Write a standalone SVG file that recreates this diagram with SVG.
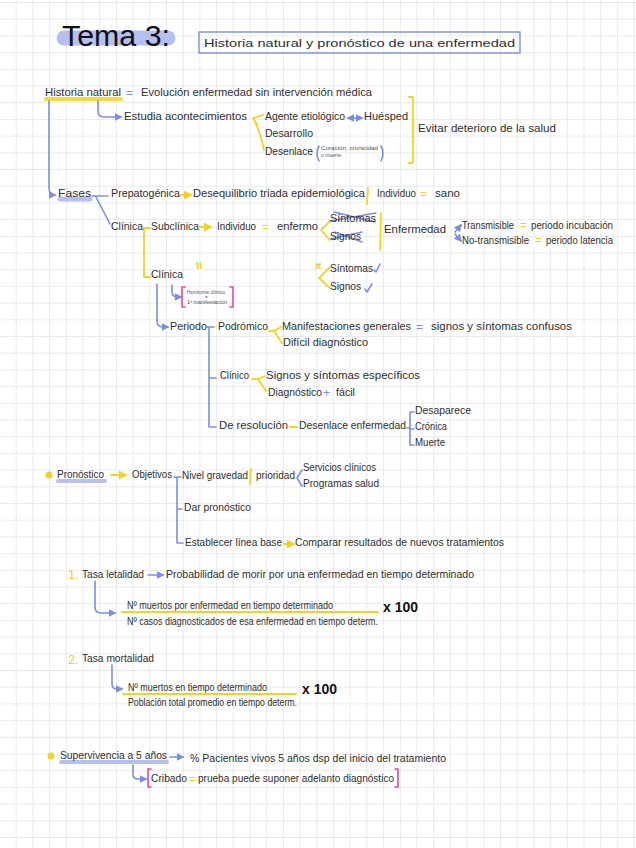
<svg xmlns="http://www.w3.org/2000/svg" width="636" height="848" viewBox="0 0 636 848">
<style>
.t{font-family:"Liberation Sans",Arial,sans-serif;font-size:10.5px;fill:#2e2e2e}
.xs{font-family:"Liberation Sans",Arial,sans-serif;font-size:4.5px;fill:#555}
.big{font-family:"Liberation Sans",Arial,sans-serif;font-size:29px;fill:#111}
.x100{font-family:"Liberation Sans",Arial,sans-serif;font-size:14px;font-weight:bold;fill:#111}
.yl{font-family:"Liberation Sans",Arial,sans-serif;font-size:13px;fill:#f2cf1d}
.bl{stroke:#7b8ee6;stroke-width:1.6;fill:none;stroke-linecap:round;stroke-linejoin:round}
.ye{stroke:#f5d21e;stroke-width:1.8;fill:none;stroke-linecap:round;stroke-linejoin:round}
.pk{stroke:#e8489c;stroke-width:1.6;fill:none;stroke-linecap:round;stroke-linejoin:round}
.eqy{font-family:"Liberation Sans",Arial,sans-serif;font-size:12px;fill:#f5d21e}
.eqb{font-family:"Liberation Sans",Arial,sans-serif;font-size:12px;fill:#7b8ee6}
</style>
<defs>
<pattern id="grid" width="16.7" height="16.7" patternUnits="userSpaceOnUse" x="0" y="3">
<path d="M16.7,0 V16.7 M0,16.7 H16.7" stroke="#d8d8d8" stroke-width="1" fill="none"/>
</pattern>
<marker id="ab" viewBox="0 0 10 10" refX="8" refY="5" markerWidth="5" markerHeight="5" orient="auto-start-reverse"><path d="M0,0 L10,5 L0,10 z" fill="#7b8ee6"/></marker>
<marker id="ay" viewBox="0 0 10 10" refX="8" refY="5" markerWidth="5" markerHeight="5" orient="auto-start-reverse"><path d="M0,0 L10,5 L0,10 z" fill="#f5d21e"/></marker>
</defs>
<rect width="636" height="848" fill="#fff"/>
<rect width="636" height="848" fill="url(#grid)"/>

<g id="highlights">
<path d="M64,38 H168" stroke="#b6bff1" stroke-width="15" stroke-linecap="round"/>
<path d="M46,99 H121" stroke="#f5d21e" stroke-width="4" stroke-linecap="round" opacity="0.85"/>
<path d="M60,199 H90" stroke="#b6bff1" stroke-width="5" stroke-linecap="round"/>
<path d="M58,481 H105" stroke="#b6bff1" stroke-width="4" stroke-linecap="round"/>
<path d="M61,762 H167" stroke="#b6bff1" stroke-width="4" stroke-linecap="round"/>
</g>

<g id="title">
<text class="big" x="62" y="46" textLength="108" lengthAdjust="spacingAndGlyphs">Tema 3:</text>
<rect x="199" y="32" width="321" height="21" fill="none" stroke="#7b8ee6" stroke-width="1.4"/>
<text class="t" x="204" y="47" font-size="12.5" textLength="311" lengthAdjust="spacingAndGlyphs">Historia natural y pronóstico de una enfermedad</text>
</g>

<g id="connectors">
<path class="bl" d="M49,101 V188 Q49,195 55,195" marker-end="url(#ab)"/>
<path class="bl" d="M98,101 V111 Q98,117 104,117 H121" marker-end="url(#ab)"/>
<path class="ye" d="M263,115 L253,118 L257,124 M253,118 Q260,130 264,150"/>
<path class="bl" d="M348,118 H362" marker-start="url(#ab)" marker-end="url(#ab)"/>
<path class="bl" d="M319,146 Q315,153 319,161 M381,146 Q385,153 381,161"/>
<path class="ye" d="M409,97 H413 V163 H409"/>
<path class="bl" d="M92,196 H108 M96,197 L110,224"/>
<path class="ye" d="M181,195 H191" marker-end="url(#ay)"/>
<path class="ye" d="M368,188 L367,204"/>
<path class="ye" d="M144,228 H150 M144,228 V277 H150"/>
<path class="ye" d="M200,227 H211" marker-end="url(#ay)"/>
<path class="ye" d="M330,221 L321,230 L330,240"/>
<path class="bl" d="M330,221 L376,213 M334,212 L375,222 M331,239 L362,232 M335,232 L362,242"/>
<path class="ye" d="M381,213 L380,250"/>
<path class="bl" d="M455,232 L461,225" marker-end="url(#ab)"/>
<path class="bl" d="M455,234 L461,241" marker-end="url(#ab)"/>
<path class="ye" d="M197,263 L198,268 M200,263 L201,268"/>
<path class="ye" d="M316,264 L320,268 M316,268 L320,264"/>
<path class="ye" d="M330,267 L319,278 L330,288"/>
<path class="bl" d="M374,270 L376,272 L380,264 M365,289 L367,292 L372,284"/>
<path class="bl" d="M157,284 V321 Q157,327 163,327 H168" marker-end="url(#ab)"/>
<path class="bl" d="M172,285 V292 Q172,297 178,297 H181" marker-end="url(#ab)"/>
<path class="pk" d="M185,287 H182 V307 H185 M230,287 H233 V307 H230"/>
<path class="bl" d="M207,327 H214 M209,327 V427 H216 M209,378 H216"/>
<path class="ye" d="M269,331 H274 L281,327 M274,331 L282,343"/>
<path class="ye" d="M252,379 H258 L265,376 M258,379 L266,391"/>
<path class="ye" d="M290,427 H297"/>
<path class="bl" d="M407,428 H410 M414,412 H410 V445 H414 M410,429 H414"/>
<circle cx="49" cy="475" r="3.5" fill="#f5d21e"/>
<path class="ye" d="M111,475 H126" marker-end="url(#ay)"/>
<path class="bl" d="M174,477 H181 M177,477 V543 H183 M177,509 H182"/>
<path class="ye" d="M251,469 L250,484"/>
<path class="bl" d="M302,470 L297,478 L302,486"/>
<path class="ye" d="M284,544 H294" marker-end="url(#ay)"/>
<path class="bl" d="M148,575 H163" marker-end="url(#ab)"/>
<path class="bl" d="M95,581 V607 Q95,613 101,613 H115" marker-end="url(#ab)"/>
<path class="ye" d="M122,612 H378" stroke-width="1.4"/>
<path class="bl" d="M112,665 V684 Q112,689 117,689 H122" marker-end="url(#ab)"/>
<path class="ye" d="M123,694 H296" stroke-width="1.4"/>
<circle cx="51" cy="756" r="3.5" fill="#f5d21e"/>
<path class="bl" d="M170,757 H183" marker-end="url(#ab)"/>
<path class="bl" d="M133,765 V774 Q133,779 138,779 H146" marker-end="url(#ab)"/>
<path class="pk" d="M151,769 H148 V787 H151 M395,769 H398 V787 H395"/>
</g>

<g id="n-historia">
<text class="t" x="45" y="96" textLength="76" lengthAdjust="spacingAndGlyphs">Historia natural</text>
<text class="eqb" x="126" y="97">=</text>
<text class="t" x="141" y="96" textLength="231" lengthAdjust="spacingAndGlyphs">Evolución enfermedad sin intervención médica</text>
</g>
<g id="n-estudia">
<text class="t" x="124" y="120" textLength="123" lengthAdjust="spacingAndGlyphs">Estudia acontecimientos</text>
<text class="t" x="265" y="120" textLength="80" lengthAdjust="spacingAndGlyphs">Agente etiológico</text>
<text class="t" x="364" y="120" textLength="44" lengthAdjust="spacingAndGlyphs">Huésped</text>
<text class="t" x="265" y="137" textLength="48" lengthAdjust="spacingAndGlyphs">Desarrollo</text>
<text class="t" x="265" y="155" textLength="48" lengthAdjust="spacingAndGlyphs">Desenlace</text>
<text class="xs" x="321" y="150" textLength="57" lengthAdjust="spacingAndGlyphs">Curación, cronicidad</text>
<text class="xs" x="321" y="157" textLength="20" lengthAdjust="spacingAndGlyphs">o muerte</text>
<text class="t" x="418" y="132" textLength="138" lengthAdjust="spacingAndGlyphs">Evitar deterioro de la salud</text>
</g>
<g id="n-fases">
<text class="t" x="58" y="197" textLength="33" lengthAdjust="spacingAndGlyphs">Fases</text>
<text class="t" x="111" y="197" textLength="69" lengthAdjust="spacingAndGlyphs">Prepatogénica</text>
<text class="t" x="193" y="197" textLength="172" lengthAdjust="spacingAndGlyphs">Desequilibrio triada epidemiológica</text>
<text class="t" x="377" y="197" textLength="39" lengthAdjust="spacingAndGlyphs">Individuo</text>
<text class="eqy" x="420" y="198">=</text>
<text class="t" x="435" y="197" textLength="25" lengthAdjust="spacingAndGlyphs">sano</text>
</g>
<g id="n-clinica">
<text class="t" x="111" y="230" textLength="32" lengthAdjust="spacingAndGlyphs">Clínica</text>
<text class="t" x="151" y="230" textLength="48" lengthAdjust="spacingAndGlyphs">Subclínica</text>
<text class="t" x="217" y="230" textLength="39" lengthAdjust="spacingAndGlyphs">Individuo</text>
<text class="eqy" x="262" y="231">=</text>
<text class="t" x="277" y="230" textLength="41" lengthAdjust="spacingAndGlyphs">enfermo</text>
<text class="t" x="330" y="222" textLength="46" lengthAdjust="spacingAndGlyphs">Síntomas</text>
<text class="t" x="330" y="240" textLength="31" lengthAdjust="spacingAndGlyphs">Signos</text>
<text class="t" x="384" y="233" textLength="62" lengthAdjust="spacingAndGlyphs">Enfermedad</text>
<text class="t" x="462" y="229" font-size="8.8" textLength="52" lengthAdjust="spacingAndGlyphs">Transmisible</text>
<text class="eqy" x="520" y="229" font-size="9">=</text>
<text class="t" x="531" y="229" font-size="9.5" textLength="82" lengthAdjust="spacingAndGlyphs">periodo incubación</text>
<text class="t" x="462" y="244" font-size="9.5" textLength="67" lengthAdjust="spacingAndGlyphs">No-transmisible</text>
<text class="eqy" x="535" y="244" font-size="10">=</text>
<text class="t" x="546" y="244" font-size="9.5" textLength="67" lengthAdjust="spacingAndGlyphs">periodo latencia</text>
<text class="t" x="151" y="278" textLength="32" lengthAdjust="spacingAndGlyphs">Clínica</text>
<text class="t" x="330" y="272" textLength="43" lengthAdjust="spacingAndGlyphs">Síntomas</text>
<text class="t" x="330" y="290" textLength="31" lengthAdjust="spacingAndGlyphs">Signos</text>
<text class="xs" x="187" y="294" textLength="38" lengthAdjust="spacingAndGlyphs">Horizonte clínico</text>
<text class="xs" x="205" y="299">=</text>
<text class="xs" x="187" y="304" textLength="40" lengthAdjust="spacingAndGlyphs">1ª manifestación</text>
</g>
<g id="n-periodo">
<text class="t" x="170" y="330" textLength="37" lengthAdjust="spacingAndGlyphs">Periodo</text>
<text class="t" x="218" y="330" textLength="50" lengthAdjust="spacingAndGlyphs">Podrómico</text>
<text class="t" x="282" y="330" textLength="129" lengthAdjust="spacingAndGlyphs">Manifestaciones generales</text>
<text class="eqb" x="416" y="331">=</text>
<text class="t" x="431" y="330" textLength="141" lengthAdjust="spacingAndGlyphs">signos y síntomas confusos</text>
<text class="t" x="283" y="346" textLength="85" lengthAdjust="spacingAndGlyphs">Difícil diagnóstico</text>
<text class="t" x="220" y="379" textLength="29" lengthAdjust="spacingAndGlyphs">Clínico</text>
<text class="t" x="266" y="379" textLength="154" lengthAdjust="spacingAndGlyphs">Signos y síntomas específicos</text>
<text class="t" x="268" y="396" textLength="54" lengthAdjust="spacingAndGlyphs">Diagnóstico</text>
<text class="eqb" x="323" y="397">+</text>
<text class="t" x="336" y="396" textLength="19" lengthAdjust="spacingAndGlyphs">fácil</text>
<text class="t" x="219" y="429" textLength="69" lengthAdjust="spacingAndGlyphs">De resolución</text>
<text class="t" x="299" y="429" textLength="107" lengthAdjust="spacingAndGlyphs">Desenlace enfermedad</text>
<text class="t" x="415" y="414" textLength="56" lengthAdjust="spacingAndGlyphs">Desaparece</text>
<text class="t" x="415" y="430" textLength="32" lengthAdjust="spacingAndGlyphs">Crónica</text>
<text class="t" x="415" y="446" textLength="30" lengthAdjust="spacingAndGlyphs">Muerte</text>
</g>
<g id="n-pronostico">
<text class="t" x="57" y="478" textLength="47" lengthAdjust="spacingAndGlyphs">Pronóstico</text>
<text class="t" x="132" y="478" textLength="40" lengthAdjust="spacingAndGlyphs">Objetivos</text>
<text class="t" x="182" y="479" textLength="66" lengthAdjust="spacingAndGlyphs">Nivel gravedad</text>
<text class="t" x="256" y="479" textLength="39" lengthAdjust="spacingAndGlyphs">prioridad</text>
<text class="t" x="303" y="471" textLength="73" lengthAdjust="spacingAndGlyphs">Servicios clínicos</text>
<text class="t" x="303" y="487" textLength="76" lengthAdjust="spacingAndGlyphs">Programas salud</text>
<text class="t" x="184" y="511" textLength="67" lengthAdjust="spacingAndGlyphs">Dar pronóstico</text>
<text class="t" x="185" y="546" textLength="97" lengthAdjust="spacingAndGlyphs">Establecer línea base</text>
<text class="t" x="295" y="546" textLength="209" lengthAdjust="spacingAndGlyphs">Comparar resultados de nuevos tratamientos</text>
</g>
<g id="n-letalidad">
<text class="yl" x="68" y="579">1.</text>
<text class="t" x="82" y="578" textLength="62" lengthAdjust="spacingAndGlyphs">Tasa letalidad</text>
<text class="t" x="166" y="578" textLength="308" lengthAdjust="spacingAndGlyphs">Probabilidad de morir por una enfermedad en tiempo determinado</text>
<text class="t" x="127" y="609" font-size="9" textLength="206" lengthAdjust="spacingAndGlyphs">Nº muertos por enfermedad en tiempo determinado</text>
<text class="t" x="127" y="625" font-size="8.6" textLength="251" lengthAdjust="spacingAndGlyphs">Nº casos diagnosticados de esa enfermedad en tiempo determ.</text>
<text class="x100" x="383" y="612" textLength="35" lengthAdjust="spacingAndGlyphs">x 100</text>
</g>
<g id="n-mortalidad">
<text class="yl" x="68" y="664">2.</text>
<text class="t" x="82" y="662" textLength="72" lengthAdjust="spacingAndGlyphs">Tasa mortalidad</text>
<text class="t" x="128" y="691" font-size="9" textLength="139" lengthAdjust="spacingAndGlyphs">Nº muertos en tiempo determinado</text>
<text class="t" x="128" y="706" font-size="8.2" textLength="169" lengthAdjust="spacingAndGlyphs">Población total promedio en tiempo determ.</text>
<text class="x100" x="302" y="694" textLength="35" lengthAdjust="spacingAndGlyphs">x 100</text>
</g>
<g id="n-supervivencia">
<text class="t" x="60" y="759" textLength="107" lengthAdjust="spacingAndGlyphs">Supervivencia a 5 años</text>
<text class="t" x="190" y="762" textLength="256" lengthAdjust="spacingAndGlyphs">% Pacientes vivos 5 años dsp del inicio del tratamiento</text>
<text class="t" x="151" y="782" textLength="36" lengthAdjust="spacingAndGlyphs">Cribado</text>
<text class="eqy" x="189" y="783">=</text>
<text class="t" x="198" y="782" textLength="196" lengthAdjust="spacingAndGlyphs">prueba puede suponer adelanto diagnóstico</text>
</g>
</svg>
